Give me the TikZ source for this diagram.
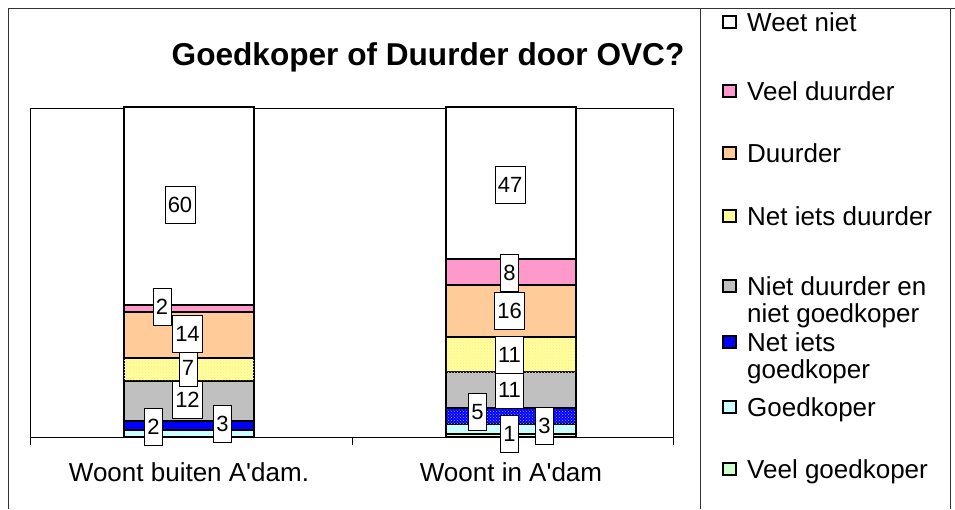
\documentclass[tikz,border=0pt]{standalone}
\usepackage{fontspec}
\setmainfont{Liberation Sans}[Ligatures=TeXOff]
\usetikzlibrary{patterns}

\definecolor{cweet}{HTML}{FFFFFF}
\definecolor{cveelduur}{HTML}{FF99CC}
\definecolor{cduur}{HTML}{FFCC99}
\definecolor{cnetduur}{HTML}{FFFF99}
\definecolor{cniet}{HTML}{C0C0C0}
\definecolor{cnetgoed}{HTML}{0000FF}
\definecolor{cgoed}{HTML}{CCFFFF}
\definecolor{cveelgoed}{HTML}{CCFFCC}

\tikzset{
  frame/.style={draw=black!80,line width=1pt},
  axisline/.style={draw=black,line width=1pt},
  seg/.style={draw=black,line width=2pt},
  dotted yellow/.style={postaction={pattern=crosshatch dots,pattern color=yellow!60!orange!40}},
  dotted blue/.style={postaction={pattern=crosshatch dots,pattern color=blue!35!white}},
  vlabel/.style={draw=black,fill=white,line width=0.8pt,inner xsep=2.8pt,inner ysep=0pt,
    minimum height=37pt,font=\fontsize{22}{26}\selectfont},
  swatch/.style={draw=black,line width=2pt,minimum width=13pt,minimum height=12pt,inner sep=0pt},
  legtext/.style={font=\fontsize{26}{27}\selectfont,align=left,inner sep=0pt,anchor=north west},
  cattext/.style={font=\fontsize{26}{30}\selectfont,inner sep=0pt},
  titletext/.style={font=\fontsize{31.6}{36}\selectfont\bfseries,inner sep=0pt}
}

\begin{document}
\begin{tikzpicture}[x=1pt,y=-1pt]
  \useasboundingbox (0,0) rectangle (955,509);
  \fill[white] (0,0) rectangle (955,509);

  \draw[frame] (8,509) -- (8,8) -- (955,8);
  \draw[frame] (700,8) -- (700,509);
  \draw[frame] (950,8) -- (950,509);

  \node[titletext] (title) at (428,57) {Goedkoper of Duurder door OVC?};

  \draw[axisline] (30,108) rectangle (673,437);
  \draw[axisline] (30,437) -- (30,445);
  \draw[axisline] (352,437) -- (352,445);
  \draw[axisline] (673,437) -- (673,445);

  \draw[seg,fill=cgoed] (124,437) rectangle (254,430.4);
  \draw[seg,fill=cnetgoed] (124,430.4) rectangle (254,420.5);
  \draw[seg,fill=cniet] (124,420.5) rectangle (254,380.9);
  \draw[seg,fill=cnetduur,dotted yellow] (124,380.9) rectangle (254,357.8);
  \draw[seg,fill=cduur] (124,357.8) rectangle (254,311.6);
  \draw[seg,fill=cveelduur] (124,311.6) rectangle (254,305);
  \draw[seg,fill=cweet] (124,305) rectangle (254,107);

  \draw[seg,fill=cveelgoed] (446,437) rectangle (576,433.8);
  \draw[seg,fill=cgoed] (446,433.8) rectangle (576,424.1);
  \draw[seg,fill=cnetgoed,dotted blue] (446,424.1) rectangle (576,407.9);
  \draw[seg,fill=cniet] (446,407.9) rectangle (576,372.3);
  \draw[seg,fill=cnetduur,dotted yellow] (446,372.3) rectangle (576,336.7);
  \draw[seg,fill=cduur] (446,336.7) rectangle (576,284.9);
  \draw[seg,fill=cveelduur] (446,284.9) rectangle (576,259.1);
  \draw[seg,fill=cweet] (446,259.1) rectangle (576,107);

  \node[vlabel] (buitenG) at (153.5,427) {2};
  \node[vlabel] (buitenNIG) at (222.5,424) {3};
  \node[vlabel] (buitenN) at (187.5,400) {12};
  \node[vlabel] (buitenNID) at (188,368) {7};
  \node[vlabel] (buitenD) at (187.5,334) {14};
  \node[vlabel] (buitenVD) at (162,307) {2};
  \node[vlabel] (buitenWN) at (180,205) {60};

  \node[vlabel] (inVG) at (509.5,433.5) {1};
  \node[vlabel] (inG) at (544.5,426) {3};
  \node[vlabel] (inNIG) at (477.5,412) {5};
  \node[vlabel] (inN) at (509.5,390) {11};
  \node[vlabel] (inNID) at (509.5,355) {11};
  \node[vlabel] (inD) at (509.5,311) {16};
  \node[vlabel] (inVD) at (509.5,272.5) {8};
  \node[vlabel] (inWN) at (510,185) {47};

  \node[cattext] (catbuiten) at (189,472) {Woont buiten A'dam.};
  \node[cattext] (catin) at (511,472) {Woont in A'dam};

  \node[swatch,fill=cweet] (swWN) at (729.5,22) {};
  \node[legtext] (lgWN) at (747,12.3) {Weet niet};
  \node[swatch,fill=cveelduur] (swVD) at (729.5,91) {};
  \node[legtext] (lgVD) at (747,81.3) {Veel duurder};
  \node[swatch,fill=cduur] (swD) at (729.5,153) {};
  \node[legtext] (lgD) at (747,143.3) {Duurder};
  \node[swatch,fill=cnetduur] (swNID) at (729.5,216) {};
  \node[legtext] (lgNID) at (747,206.3) {Net iets duurder};
  \node[swatch,fill=cniet] (swN) at (729.5,286) {};
  \node[legtext] (lgN) at (747,276.3) {Niet duurder en\\niet goedkoper};
  \node[swatch,fill=cnetgoed] (swNIG) at (729.5,342) {};
  \node[legtext] (lgNIG) at (747,332.3) {Net iets\\goedkoper};
  \node[swatch,fill=cgoed] (swG) at (729.5,407) {};
  \node[legtext] (lgG) at (747,397.3) {Goedkoper};
  \node[swatch,fill=cveelgoed] (swVG) at (729.5,469) {};
  \node[legtext] (lgVG) at (747,459.3) {Veel goedkoper};
\end{tikzpicture}
\end{document}
